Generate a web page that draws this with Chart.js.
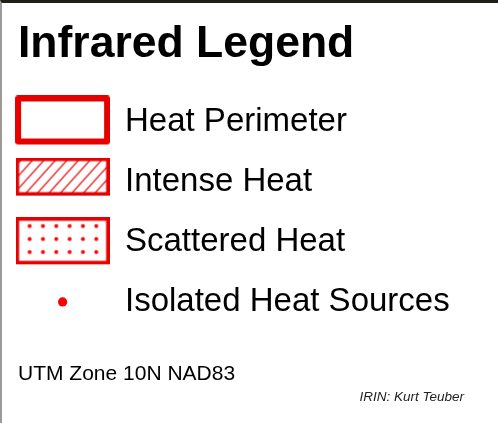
<!DOCTYPE html>
<html>
<head>
<meta charset="utf-8">
<title>Infrared Legend</title>
<script src="https://cdn.jsdelivr.net/npm/chart.js@4.4.0/dist/chart.umd.min.js"></script>
<style>
  html, body { margin: 0; padding: 0; background: #fff; }
  #frame {
    position: absolute; left: 0; top: 0;
    width: 498px; height: 423px; box-sizing: border-box;
    border-top: 3px solid #1d2118;
    border-left: 2px solid #9a9a9a;
    background: #fff;
  }
  #legendChart { display: block; }
</style>
</head>
<body>
<div id="frame"><canvas id="legendChart" width="496" height="420"></canvas></div>
<script>
// legend entries, top to bottom
const legendLabels = ['Heat Perimeter', 'Intense Heat', 'Scattered Heat', 'Isolated Heat Sources'];
const swatchKinds = ['perimeter', 'hatch', 'dots', 'point'];
const markerX = [0, 0, 0, 0];

const titleText = 'Infrared Legend';
const projectionText = 'UTM Zone 10N NAD83';
const creditText = 'IRIN: Kurt Teuber';

const RED = '#e60000';
const FONT = "'Liberation Sans', Arial, Helvetica, sans-serif";

function newCanvas(w, h) {
    const c = document.createElement('canvas');
    c.width = w;
    c.height = h;
    return c;
}

// builds the little symbol drawn at each point
function makeSwatch(kind) {
    if (kind === 'point') return 'circle';

    if (kind === 'perimeter') {
        const c = newCanvas(95, 52);
        const ctx = c.getContext('2d');
        ctx.strokeStyle = RED;
        ctx.lineWidth = 6;
        ctx.lineJoin = 'round';
        ctx.strokeRect(3, 3, 89, 43);
        return c;
    }

    if (kind === 'hatch') {
        const w = 94, h = 38;
        const c = newCanvas(w, 48);
        const ctx = c.getContext('2d');
        ctx.fillStyle = '#fff';
        ctx.fillRect(0, 0, w, h);
        ctx.save();
        ctx.beginPath();
        ctx.rect(2, 2, w - 4, h - 4);
        ctx.clip();
        ctx.strokeStyle = RED;
        ctx.lineWidth = 1.2;
        for (let x = -h; x < w + h; x += 11.5) {
            ctx.beginPath();
            ctx.moveTo(x, h);
            ctx.lineTo(x + h * 0.9, 0);
            ctx.stroke();
        }
        ctx.restore();
        ctx.strokeStyle = RED;
        ctx.lineWidth = 3.5;
        ctx.strokeRect(1.75, 1.75, w - 3.5, h - 3.5);
        return c;
    }

    // scattered heat: box with a grid of dots
    const w = 94, h = 47;
    const c = newCanvas(w, 49);
    const ctx = c.getContext('2d');
    ctx.strokeStyle = RED;
    ctx.lineWidth = 3.5;
    ctx.strokeRect(1.75, 1.75, w - 3.5, h - 3.5);
    ctx.fillStyle = '#ff0000';
    for (let r = 0; r < 3; r++) {
        for (let k = 0; k < 6; k++) {
            ctx.beginPath();
            ctx.arc(14 + k * 13.33, 8.7 + r * 13, 2, 0, Math.PI * 2);
            ctx.fill();
        }
    }
    return c;
}

const swatches = swatchKinds.map(makeSwatch);

const ctx = document.getElementById('legendChart').getContext('2d');

new Chart(ctx, {
    type: 'scatter',
    data: {
        datasets: [{
            data: legendLabels.map((l, i) => ({ x: markerX[i], y: l })),
            pointStyle: swatches,
            pointRadius: [5, 5, 5, 4.6],
            backgroundColor: '#ff0000',
            borderWidth: 0,
            clip: false
        }]
    },
    options: {
        responsive: false,
        animation: false,
        events: [],
        layout: {
            padding: { left: 16, right: 34, top: 0, bottom: 0 }
        },
        plugins: {
            legend: { display: false },
            tooltip: { enabled: false },
            title: {
                display: true,
                text: titleText,
                align: 'start',
                color: '#000',
                font: { family: FONT, size: 44.5, weight: 'bold' },
                padding: { top: 15, bottom: 20 }
            },
            subtitle: {
                display: true,
                text: creditText,
                position: 'bottom',
                align: 'end',
                color: '#222',
                font: { family: FONT, size: 13.5, style: 'italic' },
                padding: { top: 2, bottom: 18 }
            }
        },
        scales: {
            x: {
                type: 'linear',
                position: 'bottom',
                // symbols sit in a narrow column at the left of the plot
                min: -1,
                max: 9,
                ticks: { display: false },
                grid: { display: false, drawTicks: false },
                border: { display: false },
                title: {
                    display: true,
                    text: projectionText,
                    align: 'start',
                    color: '#000',
                    font: { family: FONT, size: 21 },
                    padding: { top: 29.6, bottom: 0 }
                }
            },
            y: {
                type: 'category',
                labels: legendLabels,
                position: 'left',
                offset: true,
                grid: { display: false, drawTicks: false },
                border: { display: false },
                ticks: {
                    color: '#000',
                    mirror: true,
                    padding: 107,
                    font: { family: FONT, size: 33 }
                },
                // mirrored labels are drawn inside the plot, axis takes no room
                afterFit: function (scale) {
                    scale.width = 0;
                    scale.paddingTop = 0;
                    scale.paddingBottom = 0;
                }
            }
        }
    }
});
</script>
</body>
</html>
